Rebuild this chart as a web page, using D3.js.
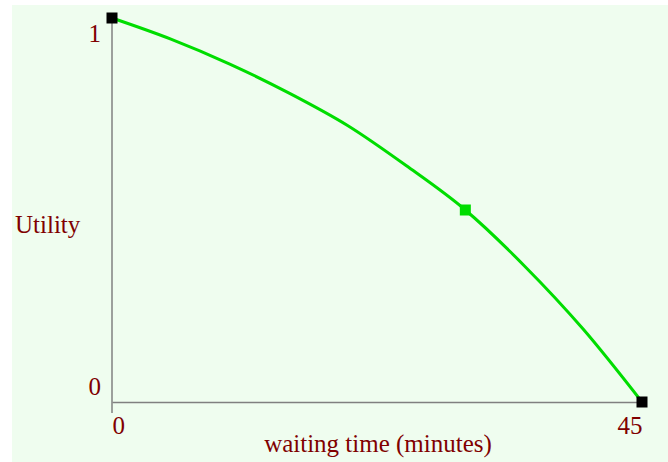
<!DOCTYPE html>
<html>
<head>
<meta charset="utf-8">
<script src="https://cdn.jsdelivr.net/npm/d3@7"></script>
<style>
  body { margin: 0; background: #fff; }
</style>
</head>
<body>
<div id="vis-container"></div>
<script>
// curve values
var waitMinutes = [0, 5, 10, 15, 20, 25, 30, 35, 40, 45];
var utility     = [1, 0.945, 0.88, 0.805, 0.72, 0.615, 0.5, 0.355, 0.19, 0];
var endPoints = [{ t: 0, u: 1 }, { t: 45, u: 0 }];
var midPoint = [{ t: 30, u: 0.5 }];
var xTicks = [0, 45];
var yTicks = [0, 1];

var width = 668, height = 462;
var margin = { top: 18, right: 26, bottom: 60, left: 112 };
var plotw = width - margin.left - margin.right;
var ploth = height - margin.top - margin.bottom;

var svg = d3.select("#vis-container")
	.append("svg")
	.attr("width", width)
	.attr("height", height);

svg.append("rect")
	.attr("x", 12).attr("y", 5)
	.attr("width", width - 12).attr("height", height - 5)
	.attr("fill", "#effdef");

var g = svg.append("g")
	.attr("transform", "translate(" + margin.left + "," + margin.top + ")");

var xScale = d3.scaleLinear().domain([0, 45]).range([0, plotw]);
var yScale = d3.scaleLinear().domain([0, 1]).range([ploth, 0]);

var labelColor = "#800000";
var font = "'Liberation Serif', 'Times New Roman', serif";

// x axis
var xAxis = g.append("g")
	.attr("transform", "translate(0," + ploth + ")")
	.call(d3.axisBottom(xScale).tickValues(xTicks).tickSize(0).tickPadding(0).tickFormat(d3.format("d")));
xAxis.select(".domain").attr("stroke", "#808080").attr("stroke-width", 1.5);
xAxis.selectAll("text")
	.attr("fill", labelColor)
	.style("font-family", font)
	.style("font-size", "25px")
	.attr("y", 32).attr("dy", null)
	.attr("text-anchor", function (d) { return d === 0 ? "start" : "end"; });

// y axis
var yAxis = g.append("g")
	.call(d3.axisLeft(yScale).tickValues(yTicks).tickSize(0).tickPadding(11).tickFormat(d3.format("d")));
yAxis.select(".domain").attr("stroke", "#808080").attr("stroke-width", 1.5)
	.attr("d", "M0,0V" + (ploth + 11));
yAxis.selectAll("text")
	.attr("fill", labelColor)
	.style("font-family", font)
	.style("font-size", "25px")
	.attr("dy", null)
	.attr("y", function (d) { return d === 1 ? 23 : -8; });

// axis titles
svg.append("text")
	.attr("x", 378).attr("y", 452)
	.attr("text-anchor", "middle")
	.attr("fill", labelColor)
	.style("font-family", font)
	.style("font-size", "25px")
	.text("waiting time (minutes)");

svg.append("text")
	.attr("x", 15).attr("y", 233)
	.attr("fill", labelColor)
	.style("font-family", font)
	.style("font-size", "25px")
	.text("Utility");

// the curve
var pts = waitMinutes.map(function (t, i) { return { t: t, u: utility[i] }; });
var line = d3.line()
	.x(function (d) { return xScale(d.t); })
	.y(function (d) { return yScale(d.u); })
	.curve(d3.curveMonotoneX);

g.append("path")
	.datum(pts)
	.attr("fill", "none")
	.attr("stroke", "#00dd00")
	.attr("stroke-width", 3)
	.attr("d", line);

var sq = 11;
g.selectAll(".endpt")
	.data(endPoints)
	.enter().append("rect")
	.attr("class", "endpt")
	.attr("x", function (d) { return xScale(d.t) - sq / 2; })
	.attr("y", function (d) { return yScale(d.u) - sq / 2; })
	.attr("width", sq).attr("height", sq)
	.attr("fill", "#000");

g.selectAll(".midpt")
	.data(midPoint)
	.enter().append("rect")
	.attr("class", "midpt")
	.attr("x", function (d) { return xScale(d.t) - sq / 2; })
	.attr("y", function (d) { return yScale(d.u) - sq / 2; })
	.attr("width", sq).attr("height", sq)
	.attr("fill", "#00dd00");
</script>
</body>
</html>
